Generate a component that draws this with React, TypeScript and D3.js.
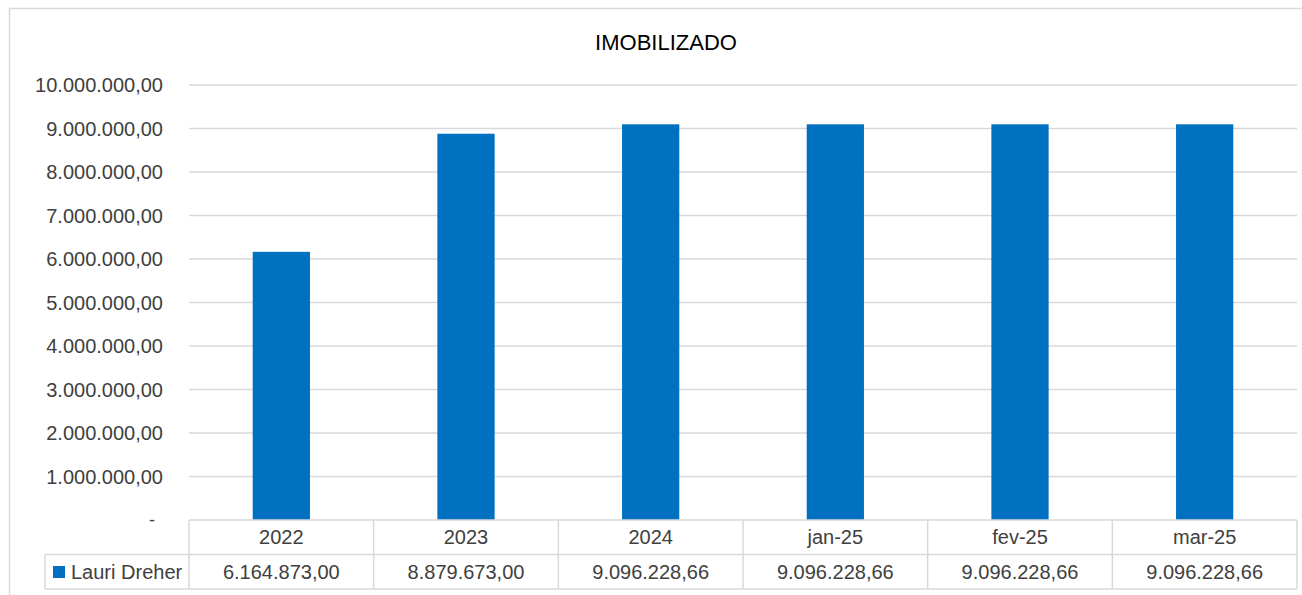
import * as d3 from "d3";

const categories = ["2022", "2023", "2024", "jan-25", "fev-25", "mar-25"];
const seriesName = "Lauri Dreher";
const values = [6164873.0, 8879673.0, 9096228.66, 9096228.66, 9096228.66, 9096228.66];
const yTicks = [0, 1000000, 2000000, 3000000, 4000000, 5000000, 6000000, 7000000, 8000000, 9000000, 10000000];
const title = "IMOBILIZADO";

const W = 1302;
const H = 595;
const plot = { left: 189, right: 1297, top: 85, bottom: 520 };
const tableLeft = 45;
const rowH = 34.5;
const font = "'Liberation Sans', Arial, sans-serif";
const textColor = "#404040";
const lineColor = "#d9d9d9";
const barColor = "#0070C0";

const ptBR = (v: number) =>
  v.toLocaleString("de-DE", { minimumFractionDigits: 2, maximumFractionDigits: 2 });

const App = () => {
  const x = d3.scaleBand<string>().domain(categories).range([plot.left, plot.right]).paddingInner(0).paddingOuter(0);
  const y = d3.scaleLinear().domain([0, 10000000]).range([plot.bottom, plot.top]);
  const bw = x.bandwidth();
  const barW = bw * 0.31;
  const row1 = plot.bottom;
  const row2 = row1 + rowH;
  const row3 = row2 + rowH;

  return (
    <svg width={W} height={H} style={{ position: "absolute", left: 0, top: 0 }} fontFamily={font}>
      <rect x={0} y={0} width={W} height={H} fill="#fff" />
      <rect x={9.5} y={8.5} width={W + 10} height={H + 10} fill="none" stroke={lineColor} strokeWidth={1.5} />
      <text x={666} y={50} textAnchor="middle" fontSize={22} fill="#000">
        {title}
      </text>

      {yTicks.map((t) => (
        <g key={t}>
          {t > 0 && (
            <line x1={plot.left} x2={plot.right} y1={y(t)} y2={y(t)} stroke={lineColor} strokeWidth={1.3} />
          )}
          <text
            x={t === 0 ? 155 : 163}
            y={y(t)}
            dy="0.35em"
            textAnchor="end"
            fontSize={t === 0 ? 18 : 20}
            fill={textColor}
          >
            {t === 0 ? "-" : ptBR(t)}
          </text>
        </g>
      ))}

      {categories.map((c, i) => (
        <rect
          key={c}
          x={x(c)! + (bw - barW) / 2}
          y={y(values[i])}
          width={barW}
          height={y(0) - y(values[i])}
          fill={barColor}
        />
      ))}

      {/* data table */}
      <g stroke={lineColor} strokeWidth={1.5}>
        <line x1={plot.left} x2={plot.right} y1={row1} y2={row1} />
        <line x1={tableLeft} x2={plot.right} y1={row2} y2={row2} />
        <line x1={tableLeft} x2={plot.right} y1={row3} y2={row3} />
        <line x1={tableLeft} x2={tableLeft} y1={row2} y2={row3} />
        {categories.map((c) => (
          <line key={c} x1={x(c)!} x2={x(c)!} y1={row1} y2={row3} />
        ))}
        <line x1={plot.right} x2={plot.right} y1={row1} y2={row3} />
      </g>
      {categories.map((c, i) => (
        <g key={c} fontSize={20} fill={textColor} textAnchor="middle">
          <text x={x(c)! + bw / 2} y={(row1 + row2) / 2} dy="0.35em">
            {c}
          </text>
          <text x={x(c)! + bw / 2} y={(row2 + row3) / 2} dy="0.35em">
            {ptBR(values[i])}
          </text>
        </g>
      ))}
      <rect x={53} y={566} width={12} height={12} fill={barColor} />
      <text x={71} y={(row2 + row3) / 2} dy="0.35em" fontSize={20} fill={textColor}>
        {seriesName}
      </text>
    </svg>
  );
};

export default App;
